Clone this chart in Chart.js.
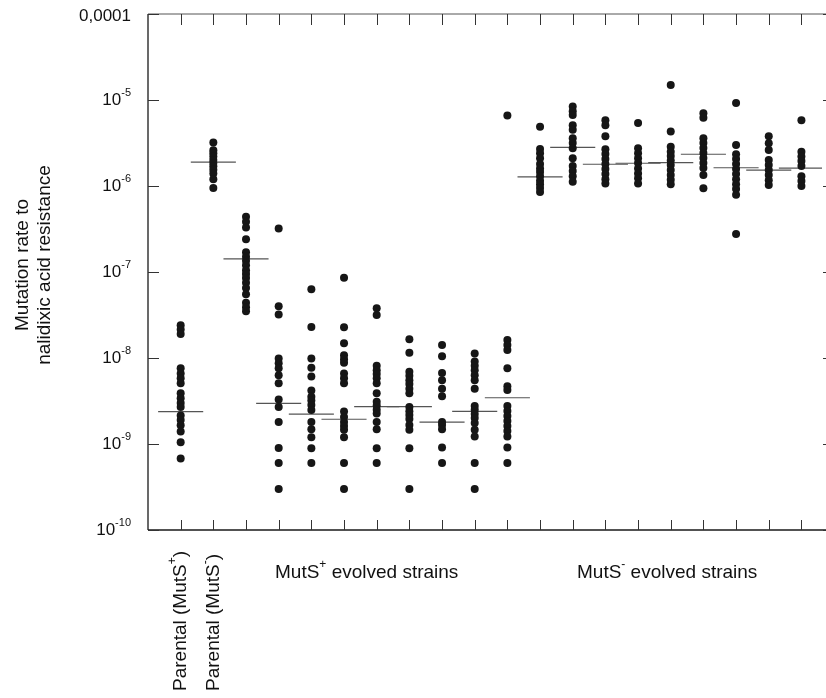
<!DOCTYPE html>
<html>
<head>
<meta charset="utf-8">
<script src="https://cdn.jsdelivr.net/npm/chart.js@4"></script>
<style>
  body { margin: 0; background: #fff; }
  #wrap { width: 826px; height: 698px; }
</style>
</head>
<body>
<div id="wrap"><canvas id="chart__1" width="826" height="698"></canvas></div>
<script>
"use strict";

// ** Data (mutation rates)
const parentalPlus = [2.4e-8, 2.15e-8, 1.9e-8, 7.6e-9, 6.6e-9, 5.8e-9, 5.1e-9, 3.9e-9, 3.4e-9, 3.0e-9, 2.7e-9, 2.15e-9, 1.9e-9, 1.65e-9, 1.4e-9, 1.05e-9, 6.8e-10];
const parentalMinus = [3.2e-6, 2.6e-6, 2.4e-6, 2.2e-6, 2.0e-6, 1.85e-6, 1.7e-6, 1.55e-6, 1.4e-6, 1.2e-6, 9.5e-7];

const mutSPlusStrains = [
  [4.4e-7, 3.85e-7, 3.3e-7, 2.4e-7, 1.7e-7, 1.5e-7, 1.35e-7, 1.2e-7, 1.05e-7, 9.5e-8, 8.5e-8, 7.5e-8, 6.5e-8, 5.5e-8, 4.4e-8, 3.9e-8, 3.5e-8],
  [3.2e-7, 4.0e-8, 3.2e-8, 9.9e-9, 8.7e-9, 7.6e-9, 6.3e-9, 5.1e-9, 3.3e-9, 2.7e-9, 1.8e-9, 9.0e-10, 6.0e-10, 3.0e-10],
  [6.3e-8, 2.3e-8, 9.9e-9, 7.7e-9, 6.1e-9, 4.2e-9, 3.55e-9, 3.2e-9, 2.84e-9, 2.48e-9, 1.8e-9, 1.48e-9, 1.2e-9, 8.9e-10, 6.0e-10],
  [8.6e-8, 2.28e-8, 1.48e-8, 1.08e-8, 9.7e-9, 8.8e-9, 6.6e-9, 5.8e-9, 5.1e-9, 2.38e-9, 2.06e-9, 1.8e-9, 1.62e-9, 1.46e-9, 1.2e-9, 6.0e-10, 3.0e-10],
  [3.8e-8, 3.16e-8, 8.1e-9, 7.2e-9, 6.5e-9, 5.8e-9, 5.1e-9, 3.9e-9, 3.1e-9, 2.8e-9, 2.5e-9, 2.27e-9, 1.8e-9, 1.48e-9, 8.9e-10, 6.0e-10],
  [1.65e-8, 1.15e-8, 6.9e-9, 6.2e-9, 5.5e-9, 5.0e-9, 4.4e-9, 3.9e-9, 2.7e-9, 2.4e-9, 2.17e-9, 1.95e-9, 1.66e-9, 1.46e-9, 8.9e-10, 3.0e-10],
  [1.42e-8, 1.05e-8, 6.7e-9, 5.5e-9, 4.4e-9, 3.6e-9, 1.8e-9, 1.66e-9, 1.48e-9, 9.1e-10, 6.0e-10],
  [1.13e-8, 9.1e-9, 8.1e-9, 7.2e-9, 6.3e-9, 5.5e-9, 4.4e-9, 2.77e-9, 2.5e-9, 2.23e-9, 2.0e-9, 1.75e-9, 1.46e-9, 1.22e-9, 6.0e-10, 3.0e-10],
  [6.6e-6, 1.62e-8, 1.42e-8, 1.24e-8, 7.6e-9, 4.7e-9, 4.25e-9, 2.77e-9, 2.42e-9, 2.12e-9, 1.85e-9, 1.62e-9, 1.42e-9, 1.22e-9, 9.1e-10, 6.0e-10],
];

const mutSMinusStrains = [
  [4.9e-6, 2.7e-6, 2.4e-6, 2.1e-6, 1.8e-6, 1.6e-6, 1.45e-6, 1.3e-6, 1.15e-6, 1.05e-6, 9.5e-7, 8.5e-7],
  [8.4e-6, 7.4e-6, 6.7e-6, 5.1e-6, 4.5e-6, 3.6e-6, 3.16e-6, 2.74e-6, 2.1e-6, 1.71e-6, 1.49e-6, 1.3e-6, 1.12e-6],
  [5.8e-6, 5.1e-6, 3.8e-6, 2.67e-6, 2.36e-6, 2.06e-6, 1.8e-6, 1.58e-6, 1.38e-6, 1.2e-6, 1.07e-6],
  [5.4e-6, 2.74e-6, 2.4e-6, 2.1e-6, 1.85e-6, 1.6e-6, 1.4e-6, 1.23e-6, 1.07e-6],
  [1.49e-5, 4.3e-6, 2.86e-6, 2.5e-6, 2.23e-6, 1.98e-6, 1.75e-6, 1.53e-6, 1.34e-6, 1.18e-6, 1.05e-6],
  [7.0e-6, 6.2e-6, 3.6e-6, 3.16e-6, 2.77e-6, 2.42e-6, 2.12e-6, 1.85e-6, 1.62e-6, 1.34e-6, 9.4e-7],
  [9.2e-6, 3.0e-6, 2.34e-6, 2.06e-6, 1.8e-6, 1.58e-6, 1.38e-6, 1.2e-6, 1.05e-6, 9.2e-7, 7.9e-7, 2.77e-7],
  [3.8e-6, 3.14e-6, 2.62e-6, 2.0e-6, 1.75e-6, 1.53e-6, 1.34e-6, 1.17e-6, 1.03e-6],
  [5.8e-6, 2.5e-6, 2.2e-6, 1.95e-6, 1.71e-6, 1.3e-6, 1.14e-6, 1.0e-6],
];

// median bars
const parentalMedians = [2.38e-9, 1.89e-6];
const mutSPlusMedians = [1.42e-7, 2.97e-9, 2.23e-9, 1.94e-9, 2.72e-9, 2.72e-9, 1.8e-9, 2.4e-9, 3.45e-9];
const mutSMinusMedians = [1.28e-6, 2.82e-6, 1.79e-6, 1.84e-6, 1.87e-6, 2.34e-6, 1.63e-6, 1.53e-6, 1.61e-6];

// axis ticks
const yTickValues = [1e-10, 1e-9, 1e-8, 1e-7, 1e-6, 1e-5, 1e-4];
const xTickPositions = Array.from({ length: 20 }, (_, i) => i);

// labels
const yTitle = ["Mutation rate to", "nalidixic acid resistance"];
const parentalLabels = [
  [{ t: "Parental (MutS" }, { t: "+", sup: true }, { t: ")" }],
  [{ t: "Parental (MutS" }, { t: "-", sup: true }, { t: ")" }],
];
const groupLabels = [
  { x: 275, parts: [{ t: "MutS" }, { t: "+", sup: true }, { t: " evolved strains" }] },
  { x: 577, parts: [{ t: "MutS" }, { t: "-", sup: true }, { t: " evolved strains" }] },
];

// ---------------------------------------------------------- //

const FONT = '"Liberation Sans", Arial, sans-serif';
const columns = [parentalPlus, parentalMinus, ...mutSPlusStrains, ...mutSMinusStrains];
const medians = [...parentalMedians, ...mutSPlusMedians, ...mutSMinusMedians];

const dotPoints = [];
columns.forEach((vals, k) => {
  vals.forEach((v) => dotPoints.push({ x: k, y: v }));
});

const medianSets = medians.map((m, k) => ({
  data: [{ x: k - 0.69, y: m }, { x: k + 0.69, y: m }],
  showLine: true,
  borderColor: "#555",
  borderWidth: 1.2,
  pointRadius: 0,
  order: 2,
}));

// draw text pieces with superscripts, returns total width
function richWidth(ctx, parts, size) {
  let w = 0;
  parts.forEach((p) => {
    ctx.font = `${p.sup ? Math.round(size * 0.62) : size}px ${FONT}`;
    w += ctx.measureText(p.t).width;
  });
  return w;
}

function drawRich(ctx, parts, x, y, size, align) {
  let cx = align === "right" ? x - richWidth(ctx, parts, size) : x;
  ctx.textAlign = "left";
  ctx.textBaseline = "middle";
  parts.forEach((p) => {
    const s = p.sup ? Math.round(size * 0.62) : size;
    ctx.font = `${s}px ${FONT}`;
    ctx.fillText(p.t, cx, p.sup ? y - size * 0.42 : y);
    cx += ctx.measureText(p.t).width;
  });
}

const frameAndLabels = {
  id: "frameAndLabels",
  beforeDatasetsDraw: (chart) => {
    const { ctx, chartArea, scales } = chart;
    const { left, top, right, bottom } = chartArea;
    ctx.save();
    ctx.lineWidth = 1.3;
    ctx.strokeStyle = "#1a1a1a";
    ctx.beginPath();
    ctx.moveTo(left, top);
    ctx.lineTo(left, bottom);
    ctx.moveTo(left, bottom);
    ctx.lineTo(chart.width, bottom);
    ctx.stroke();
    ctx.strokeStyle = "#555";
    ctx.lineWidth = 1;
    ctx.beginPath();
    ctx.moveTo(left, top);
    ctx.lineTo(chart.width, top);
    ctx.stroke();

    // inward ticks
    ctx.strokeStyle = "#333";
    ctx.beginPath();
    xTickPositions.forEach((k) => {
      const px = Math.round(scales.x.getPixelForValue(k)) + 0.5;
      ctx.moveTo(px, top);
      ctx.lineTo(px, top + 11);
      ctx.moveTo(px, bottom);
      ctx.lineTo(px, bottom - 10);
    });
    yTickValues.forEach((v) => {
      const py = Math.round(scales.y.getPixelForValue(v)) + 0.5;
      ctx.moveTo(left, py);
      ctx.lineTo(left + 11, py);
      ctx.moveTo(right + 1, py);
      ctx.lineTo(right + 4, py);
    });
    ctx.stroke();
    ctx.restore();
  },
  afterDraw: (chart) => {
    const { ctx, scales } = chart;
    ctx.save();
    ctx.fillStyle = "#111";

    // ** Y tick labels
    yTickValues.forEach((v) => {
      const py = scales.y.getPixelForValue(v);
      const exp = Math.round(Math.log10(v));
      if (exp === -4) {
        drawRich(ctx, [{ t: "0,0001" }], 131, py + 2, 17, "right");
      } else {
        drawRich(ctx, [{ t: "10" }, { t: `${exp}`, sup: true }], 131, py, 17, "right");
      }
    });

    // ** Y title
    ctx.save();
    ctx.translate(0, 265);
    ctx.rotate(-Math.PI / 2);
    ctx.font = `19px ${FONT}`;
    ctx.textAlign = "center";
    ctx.textBaseline = "middle";
    ctx.fillText(yTitle[0], 0, 23);
    ctx.fillText(yTitle[1], 0, 45);
    ctx.restore();

    // ** Parental labels (vertical)
    parentalLabels.forEach((parts, k) => {
      const px = scales.x.getPixelForValue(k);
      ctx.save();
      ctx.translate(px, 691);
      ctx.rotate(-Math.PI / 2);
      drawRich(ctx, parts, 0, 0, 19, "left");
      ctx.restore();
    });

    // ** Group labels
    groupLabels.forEach((g) => drawRich(ctx, g.parts, g.x, 573, 19, "left"));
    ctx.restore();
  },
};

const config = {
  type: "scatter",
  data: {
    datasets: [
      {
        data: dotPoints,
        backgroundColor: "#161616",
        borderWidth: 0,
        pointRadius: 4,
        order: 1,
      },
      ...medianSets,
    ],
  },
  options: {
    responsive: false,
    animation: false,
    layout: { padding: { left: 148, top: 14, right: 4, bottom: 168 } },
    plugins: { legend: { display: false }, tooltip: { enabled: false } },
    scales: {
      x: { type: "linear", min: -1, max: 19.63, display: false },
      y: { type: "logarithmic", min: 1e-10, max: 1e-4, display: false },
    },
  },
  plugins: [frameAndLabels],
};

const ctx = document.getElementById("chart__1").getContext("2d");
const chart = new Chart(ctx, config);
</script>
</body>
</html>
